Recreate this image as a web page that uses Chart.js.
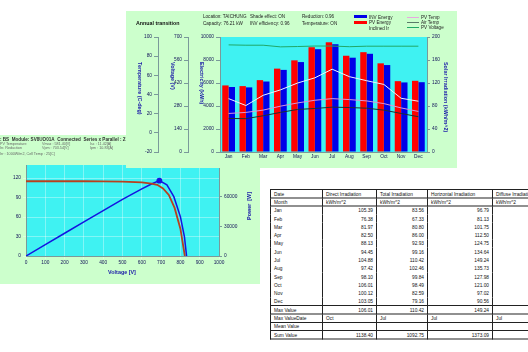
<!DOCTYPE html>
<html>
<head>
<meta charset="utf-8">
<script src="https://cdn.jsdelivr.net/npm/chart.js@4.4.1/dist/chart.umd.min.js"></script>
<style>
body{margin:0;width:528px;height:352px;background:#fff;position:relative;overflow:hidden;font-family:"Liberation Sans",Arial,sans-serif;}
.panel{position:absolute;background:#ccffcc;}
#ivPanel{left:0;top:135px;width:260px;height:149px;}
#topPanel{left:126px;top:11px;width:331px;height:157px;}
canvas{position:absolute;left:0;top:0;}
/* мелкий текст рисуем в 2 раза крупнее и ужимаем, иначе браузер не дает шрифт < 6px */
.t{position:absolute;white-space:nowrap;font-size:9.2px;line-height:12px;color:#222;transform:scale(0.5);transform-origin:0 0;}
.s{font-size:7.4px;color:#666;}
.sw{position:absolute;}
#tblWrap{position:absolute;left:270px;top:189px;transform:scale(0.5);transform-origin:0 0;}
#tbl{border-collapse:collapse;table-layout:fixed;width:564px;font-size:9.6px;color:#111;}
#tbl tr{height:16.6px;}
#tbl td{line-height:13px;padding:0 6px;border-left:2px solid #222;border-right:2px solid #222;white-space:nowrap;overflow:hidden;}
#tbl tr.b td{border-top:2px solid #222;border-bottom:2px solid #222;}
#tbl td.n{text-align:right;}
</style>
</head>
<body>

<div id="ivPanel" class="panel">
  <canvas id="ivChart" width="260" height="149"></canvas>
  <div class="t" style="left:0;top:1px;font-weight:bold;color:#333;">: BS&nbsp; Module: SV8UO01A&nbsp; Connected&nbsp; Series x Parallel : 21 x 1</div>
  <div class="t s" style="left:0;top:6px;">PV Temperature</div>
  <div class="t s" style="left:42px;top:6px;">Vmax : 581.40[V]</div>
  <div class="t s" style="left:90px;top:6px;">Isc : 11.42[A]</div>
  <div class="t s" style="left:0;top:10px;">Irr. Reduction</div>
  <div class="t s" style="left:42px;top:10px;">Vpm : 703.54[V]</div>
  <div class="t s" style="left:90px;top:10px;">Ipm : 10.83[A]</div>
  <div class="t s" style="left:0;top:16px;">Irr : 1000W/m2, Cell Temp : 25[C]</div>
</div>

<div id="topPanel" class="panel">
  <canvas id="mainChart" width="331" height="157"></canvas>
  <div class="t" style="left:10px;top:9px;font-weight:bold;font-size:10.6px;color:#111;">Annual transition</div>
  <div class="t" style="left:77px;top:2px;">Location: TAICHUNG</div>
  <div class="t" style="left:77px;top:9px;">Capacity: 76.21 kW</div>
  <div class="t" style="left:124px;top:2px;">Shade effect: ON</div>
  <div class="t" style="left:124px;top:9px;">INV efficiency: 0.96</div>
  <div class="t" style="left:176px;top:2px;">Reduction: 0.96</div>
  <div class="t" style="left:176px;top:9px;">Temperature: ON</div>

  <div class="sw" style="left:228px;top:4px;width:13px;height:3px;background:#0000e8;"></div>
  <div class="sw" style="left:228px;top:9.5px;width:13px;height:3px;background:#ff0000;"></div>
  <div class="t" style="left:243px;top:2.5px;">INV Energy</div>
  <div class="t" style="left:243px;top:8px;">PV Energy</div>
  <div class="t" style="left:243px;top:13.5px;">Inclined Ir</div>

  <div class="sw" style="left:281px;top:5.5px;width:12px;height:1px;background:#e7a8e0;"></div>
  <div class="sw" style="left:281px;top:10.5px;width:12px;height:1px;background:#5a7a6a;"></div>
  <div class="sw" style="left:281px;top:16px;width:12px;height:1px;background:#20a868;"></div>
  <div class="t" style="left:295px;top:2.5px;">PV Temp</div>
  <div class="t" style="left:295px;top:7.5px;">Air Temp</div>
  <div class="t" style="left:295px;top:13px;">PV Voltage</div>
</div>

<div id="tblWrap"><table id="tbl"></table></div>

<script>
// ---- данные годового графика ----
const months = ['Jan', 'Feb', 'Mar', 'Apr', 'May', 'Jun', 'Jul', 'Aug', 'Sep', 'Oct', 'Nov', 'Dec'];
const pvEnergy = [5790, 5730, 6250, 7250, 7970, 9110, 9540, 8370, 8680, 7710, 6160, 6190];
const invEnergy = [5650, 5620, 6130, 7140, 7820, 8940, 9370, 8200, 8540, 7560, 6050, 6070];
const inclinedIr = [92.8, 80.8, 98.6, 108, 120, 129, 144, 131, 124, 117.5, 93.4, 88.3];
const pvTemp = [20.2, 21.3, 23.7, 27.8, 31.2, 34.0, 35.7, 34.7, 33.3, 30.5, 26.0, 22.3];
const airTemp = [15.0, 14.8, 17.8, 21.3, 24.4, 25.4, 26.8, 26.4, 25.7, 23.7, 20.2, 16.8];
const pvVoltage = [652, 650, 650, 640, 642, 645, 645, 641, 644, 644, 644, 644];

// ---- данные IV / PV кривых ----
const ivVoltage = [0, 100, 200, 300, 400, 500, 600, 650, 680, 710, 740, 770, 800, 823];
const ivCurrent = [115, 115, 115, 115, 114.8, 114.4, 113.3, 111.5, 109.5, 104, 94, 74, 42, 0];
const pvCurveVoltage = [0, 100, 200, 300, 400, 500, 600, 650, 691, 730, 766, 800, 821, 832];
const pvPower = [0, 11500, 23000, 34500, 45900, 57200, 67800, 72800, 76200, 71900, 60000, 39700, 19300, 0];

// ---- таблица облучённости ----
const tableRows = ['Jan', 'Feb', 'Mar', 'Apr', 'May', 'Jun', 'Jul', 'Aug', 'Sep', 'Oct', 'Nov', 'Dec'];
const directIr = ['105.39', '76.38', '81.97', '82.50', '88.13', '94.45', '104.88', '97.42', '98.10', '106.01', '100.12', '103.05'];
const totalIr = ['83.56', '67.33', '80.80', '86.00', '92.93', '99.16', '110.42', '102.46', '99.84', '98.49', '82.59', '79.16'];
const horizIr = ['96.79', '81.13', '101.75', '112.50', '124.75', '134.64', '149.24', '135.73', '127.98', '121.00', '97.02', '90.56'];
const maxValues = ['106.01', '110.42', '149.24', ''];
const maxDates = ['Oct', 'Jul', 'Jul', 'Jul'];
const sumValues = ['1138.40', '1092.75', '1373.09', ''];

const tickFont = { family: '"Liberation Sans", Arial', size: 4.8 };
const tickColor = '#14145a';
const axisColor = '#7a9a9a';
const plain = v => String(v); // без разделителей тысяч

// заливка области графика
const plotFill = {
    id: 'plotFill',
    beforeDraw(chart) {
        const a = chart.chartArea;
        chart.ctx.save();
        chart.ctx.fillStyle = '#3ff2f2';
        chart.ctx.fillRect(a.left, a.top, a.right - a.left, a.bottom - a.top);
        chart.ctx.restore();
    }
};

// повернутые подписи осей
const sideTitles = {
    id: 'sideTitles',
    afterDraw(chart, args, opts) {
        const ctx = chart.ctx;
        opts.items.forEach(t => {
            ctx.save();
            ctx.fillStyle = '#1a1aa8';
            ctx.font = 'bold 5.4px "Liberation Sans", Arial';
            ctx.translate(t.x, t.y);
            ctx.rotate(t.rot);
            ctx.textAlign = t.align;
            ctx.textBaseline = 'middle';
            ctx.fillText(t.text, 0, 0);
            ctx.restore();
        });
    }
};

function leftAxis(min, max, step, width, weight) {
    return {
        position: 'left',
        weight: weight,
        min: min,
        max: max,
        ticks: { stepSize: step, font: tickFont, color: tickColor, padding: 2, callback: plain },
        grid: { drawOnChartArea: false, tickLength: 4, color: axisColor },
        border: { color: axisColor },
        afterFit: s => { s.width = width; }
    };
}

new Chart(document.getElementById('mainChart').getContext('2d'), {
    type: 'bar',
    data: {
        labels: months,
        datasets: [
            { type: 'line', label: 'PV Voltage', data: pvVoltage, yAxisID: 'yVolt', borderColor: '#20a868', borderWidth: 1, pointRadius: 0, order: 1 },
            { type: 'line', label: 'Inclined Ir', data: inclinedIr, yAxisID: 'yIr', borderColor: '#eef4ff', borderWidth: 1, pointRadius: 0, order: 1 },
            { type: 'line', label: 'PV Temp', data: pvTemp, yAxisID: 'yTemp', borderColor: '#d896d8', borderWidth: 1, pointRadius: 0, order: 1 },
            { type: 'line', label: 'Air Temp', data: airTemp, yAxisID: 'yTemp', borderColor: '#1e3030', borderWidth: 1, pointRadius: 0, order: 1 },
            { label: 'PV Energy', data: pvEnergy, yAxisID: 'yElec', backgroundColor: '#ff0000', categoryPercentage: 0.74, barPercentage: 1, order: 2 },
            { label: 'INV Energy', data: invEnergy, yAxisID: 'yElec', backgroundColor: '#0000e8', categoryPercentage: 0.74, barPercentage: 1, order: 2 }
        ]
    },
    options: {
        responsive: false,
        animation: false,
        layout: { padding: { top: 26, left: 0, right: 0, bottom: 0 } },
        plugins: {
            legend: { display: false },
            tooltip: { enabled: false },
            sideTitles: {
                items: [
                    { text: 'Temperature (C-deg)', x: 13, y: 51, rot: Math.PI / 2, align: 'left' },
                    { text: 'Voltage (V)', x: 46, y: 51, rot: Math.PI / 2, align: 'left' },
                    { text: 'Electricity (kWh)', x: 75, y: 51, rot: Math.PI / 2, align: 'left' },
                    { text: 'Solar Irradiation (kWh/m^2)', x: 319, y: 51, rot: Math.PI / 2, align: 'left' }
                ]
            }
        },
        scales: {
            x: {
                ticks: { font: tickFont, color: tickColor, padding: 2 },
                grid: { display: false, drawTicks: false },
                border: { color: axisColor },
                afterFit: s => { s.height = 16; }
            },
            yTemp: leftAxis(-20, 100, 20, 32, 3),
            yVolt: leftAxis(0, 700, 140, 30, 2),
            yElec: leftAxis(0, 10000, 2000, 32, 1),
            yIr: {
                position: 'right',
                min: 0,
                max: 200,
                ticks: { stepSize: 40, font: tickFont, color: tickColor, padding: 2, callback: plain },
                grid: { drawOnChartArea: false, tickLength: 3, color: axisColor },
                border: { color: axisColor },
                afterFit: s => { s.width = 30; }
            }
        }
    },
    plugins: [plotFill, sideTitles]
});

// IV / PV кривые
const ivPoints = ivVoltage.map((v, i) => ({ x: v, y: ivCurrent[i] }));
const pvPoints = pvCurveVoltage.map((v, i) => ({ x: v, y: pvPower[i] }));
const peakIndex = pvPower.indexOf(Math.max(...pvPower));

new Chart(document.getElementById('ivChart').getContext('2d'), {
    type: 'scatter',
    data: {
        datasets: [
            { label: 'Current', data: ivPoints, yAxisID: 'yI', showLine: true, borderColor: '#b8401e', borderWidth: 1.8, pointRadius: 0 },
            { label: 'Power', data: pvPoints, yAxisID: 'yP', showLine: true, borderColor: '#1414e0', backgroundColor: '#1414e0', borderWidth: 1.5,
              pointRadius: c => c.dataIndex === peakIndex ? 2.2 : 0 }
        ]
    },
    options: {
        responsive: false,
        animation: false,
        layout: { padding: { top: 30, left: 0, right: 0, bottom: 0 } },
        plugins: {
            legend: { display: false },
            tooltip: { enabled: false },
            sideTitles: {
                items: [
                    { text: 'Voltage [V]', x: 122, y: 138, rot: 0, align: 'center' },
                    { text: 'Power  [W]', x: 250, y: 71, rot: -Math.PI / 2, align: 'center' }
                ]
            }
        },
        scales: {
            x: {
                type: 'linear',
                min: 0,
                max: 1000,
                ticks: { stepSize: 100, font: tickFont, color: tickColor, padding: 1, callback: plain },
                grid: { color: 'rgba(255,255,255,0.35)', tickLength: 3 },
                border: { color: axisColor },
                afterFit: s => { s.height = 28; }
            },
            yI: {
                position: 'left',
                min: 0,
                max: 140,
                afterBuildTicks: s => { s.ticks = [0, 30, 60, 90, 120].map(v => ({ value: v })); },
                ticks: { font: tickFont, color: tickColor, padding: 2, callback: plain },
                grid: { color: 'rgba(255,255,255,0.35)', tickLength: 3 },
                border: { color: axisColor },
                afterFit: s => { s.width = 26; }
            },
            yP: {
                position: 'right',
                min: 0,
                max: 92000,
                afterBuildTicks: s => { s.ticks = [0, 30000, 60000].map(v => ({ value: v })); },
                ticks: { font: tickFont, color: tickColor, padding: 2, callback: plain },
                grid: { drawOnChartArea: false, tickLength: 3, color: axisColor },
                border: { color: axisColor },
                afterFit: s => { s.width = 41; }
            }
        }
    },
    plugins: [plotFill, sideTitles]
});

// построение таблицы (в двойном масштабе, ужимается через CSS)
const tbl = document.getElementById('tbl');
const colW = [104, 108, 102, 130, 120];
let html = '<colgroup>' + colW.map(w => `<col style="width:${w}px">`).join('') + '</colgroup>';
html += '<tr class="b"><td>Date</td><td>Direct Irradiation</td><td>Total Irradiation</td><td>Horizontal Irradiation</td><td>Diffuse Irradiation</td></tr>';
html += '<tr class="b"><td>Month</td><td>kWh/m^2</td><td>kWh/m^2</td><td>kWh/m^2</td><td>kWh/m^2</td></tr>';
tableRows.forEach((m, i) => {
    html += `<tr><td>${m}</td><td class="n">${directIr[i]}</td><td class="n">${totalIr[i]}</td><td class="n">${horizIr[i]}</td><td class="n"></td></tr>`;
});
html += '<tr class="b"><td>Max Value</td>' + maxValues.map(v => `<td class="n">${v}</td>`).join('') + '</tr>';
html += '<tr class="b"><td>Max ValueDate</td>' + maxDates.map(v => `<td>${v}</td>`).join('') + '</tr>';
html += '<tr class="b"><td>Mean Value</td><td></td><td></td><td></td><td></td></tr>';
html += '<tr class="b"><td>Sum Value</td>' + sumValues.map(v => `<td class="n">${v}</td>`).join('') + '</tr>';
tbl.innerHTML = html;
</script>
</body>
</html>
